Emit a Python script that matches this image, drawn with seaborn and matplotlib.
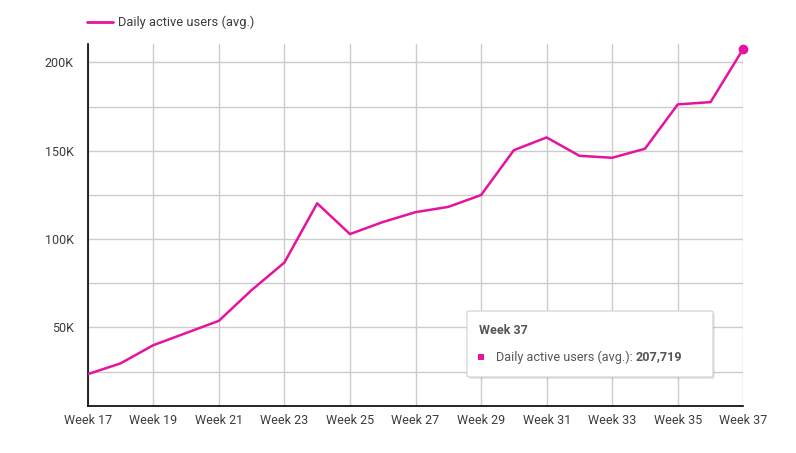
import matplotlib
matplotlib.use("Agg")
import matplotlib.pyplot as plt
import matplotlib.patches as mpatches
from matplotlib.ticker import FixedLocator, MultipleLocator, FuncFormatter
import seaborn as sns
import pandas as pd

weeks = list(range(17, 38))
week_labels = [f"Week {w}" for w in weeks]
dau = [23500, 29600, 39900, 46800, 53700, 71100, 86700, 120200, 102800, 109600,
       115200, 118200, 124900, 150300, 157500, 147100, 146000, 151100, 176200,
       177500, 207719]
series_name = "Daily active users (avg.)"

df = pd.DataFrame({"week": weeks, "value": dau})

sns.set_theme(style="white")
plt.rcParams['font.family'] = ['Roboto', 'DejaVu Sans']

color = "#e6139e"
text_color = "#3c3c3c"
fig = plt.figure(figsize=(7.96, 4.53), dpi=100)
ax = fig.add_axes([0.1102, 0.1038, 0.8236, 0.7991])

sns.lineplot(data=df, x="week", y="value", ax=ax, color=color, linewidth=1.8, zorder=3)
ax.scatter([weeks[-1]], [dau[-1]], s=36, color=color, zorder=4, clip_on=False)

ax.set_xlim(17, 37)
ax.set_ylim(5500, 210400)
ax.xaxis.set_major_locator(FixedLocator(weeks[::2]))
ax.yaxis.set_major_locator(MultipleLocator(50000))
ax.yaxis.set_minor_locator(MultipleLocator(25000))
ax.xaxis.set_major_formatter(FuncFormatter(lambda v, p: f"Week {int(round(v))}"))
ax.yaxis.set_major_formatter(FuncFormatter(lambda v, p: f"{int(v/1000)}K"))
ax.grid(True, axis="x", which="major", color="#cccccc", linewidth=1)
ax.grid(True, axis="y", which="both", color="#cccccc", linewidth=1)
ax.set_axisbelow(True)
ax.tick_params(axis="both", which="both", length=0, labelsize=9, colors=text_color)
ax.tick_params(axis="x", pad=6)
ax.tick_params(axis="y", pad=10)
ax.set_xlabel("")
ax.set_ylabel("")
for s in ["top", "right"]:
    ax.spines[s].set_visible(False)
ax.spines["left"].set_color("black")
ax.spines["bottom"].set_color("black")
ax.spines["left"].set_linewidth(1.2)
ax.spines["bottom"].set_linewidth(1.2)

# legend
fig.lines.append(plt.Line2D([87/796, 113/796], [1-22/453, 1-22/453], color=color,
                            linewidth=2, transform=fig.transFigure))
fig.text(118/796, 1-22/453, series_name, va="center", ha="left", fontsize=9.3, color=text_color)

# tooltip
x0, y0, x1, y1 = 467/796, 1-377/453, 713/796, 1-311/453
shadow = mpatches.FancyBboxPatch((x0+0.002, y0-0.004), x1-x0, y1-y0,
                                 boxstyle="round,pad=0,rounding_size=0.003",
                                 transform=fig.transFigure, facecolor="#000000",
                                 alpha=0.12, edgecolor="none", zorder=5)
box = mpatches.FancyBboxPatch((x0, y0), x1-x0, y1-y0,
                              boxstyle="round,pad=0,rounding_size=0.003",
                              transform=fig.transFigure, facecolor="white",
                              edgecolor="#d0d0d0", linewidth=0.8, zorder=6)
fig.patches.extend([shadow, box])
fig.text(479/796, 1-330/453, week_labels[-1], fontsize=9, fontweight="bold",
         color="#555555", va="center", ha="left", zorder=7)
fig.patches.append(mpatches.Rectangle((478/796, 1-360/453), 6/796, 6/453,
                                      transform=fig.transFigure, facecolor=color,
                                      edgecolor="none", zorder=7))
t = fig.text(496/796, 1-357/453, f"{series_name}: ", fontsize=9.1, color="#555555",
             va="center", ha="left", zorder=7)
fig.canvas.draw()
bb = t.get_window_extent()
fig.text(bb.x1/796, 1-357/453, f"{dau[-1]:,}", fontsize=9.1, fontweight="bold",
         color="#555555", va="center", ha="left", zorder=7)

fig.savefig("out.png", dpi=100)
